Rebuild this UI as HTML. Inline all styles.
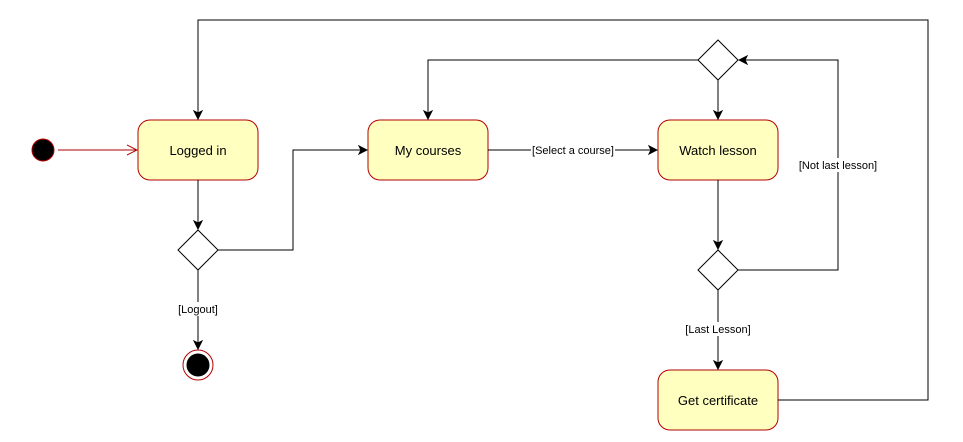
<!DOCTYPE html>
<html><head><meta charset="utf-8"><style>
html,body{margin:0;padding:0;background:#fff;}
svg{display:block;}
text{font-family:"Liberation Sans",Arial,sans-serif;}
</style></head><body>
<svg width="963" height="442" viewBox="0 0 963 442" xmlns="http://www.w3.org/2000/svg">
<defs>
<marker id="a" markerWidth="10" markerHeight="10" refX="9" refY="5" orient="auto" markerUnits="userSpaceOnUse">
<path d="M1,1 L9,5 L1,9 L3,5 Z" fill="#000" stroke="#000"/>
</marker>
<marker id="r" markerWidth="12" markerHeight="12" refX="11" refY="6" orient="auto" markerUnits="userSpaceOnUse">
<path d="M1,1 L11,6 L1,11" fill="none" stroke="#b20000"/>
</marker>
</defs>
<g fill="none" stroke="#000" stroke-width="1">
<circle cx="43" cy="150" r="11" fill="#000" stroke="#b20000"/>
<line x1="58" y1="150" x2="137" y2="150" stroke="#b20000" marker-end="url(#r)"/>
<rect x="138" y="120" width="120" height="60" rx="12" fill="#ffffc0" stroke="#b20000"/>
<rect x="368" y="120" width="120" height="60" rx="12" fill="#ffffc0" stroke="#b20000"/>
<rect x="658" y="120" width="120" height="60" rx="12" fill="#ffffc0" stroke="#b20000"/>
<rect x="658" y="370" width="120" height="60" rx="12" fill="#ffffc0" stroke="#b20000"/>
<path d="M198,230 L218,250 L198,270 L178,250 Z" fill="#fff"/>
<path d="M718,40 L738,60 L718,80 L698,60 Z" fill="#fff"/>
<path d="M718,250 L738,270 L718,290 L698,270 Z" fill="#fff"/>
<circle cx="198" cy="365" r="15" fill="#fff" stroke="#b20000"/>
<circle cx="198" cy="365" r="11" fill="#000"/>
<line x1="198" y1="180" x2="198" y2="229" marker-end="url(#a)"/>
<polyline points="218,250 293,250 293,150 367,150" marker-end="url(#a)"/>
<line x1="198" y1="270" x2="198" y2="349" marker-end="url(#a)"/>
<line x1="488" y1="150" x2="657" y2="150" marker-end="url(#a)"/>
<line x1="718" y1="180" x2="718" y2="249" marker-end="url(#a)"/>
<polyline points="738,270 838,270 838,60 739,60" marker-end="url(#a)"/>
<polyline points="698,60 428,60 428,119" marker-end="url(#a)"/>
<line x1="718" y1="80" x2="718" y2="119" marker-end="url(#a)"/>
<line x1="718" y1="290" x2="718" y2="369" marker-end="url(#a)"/>
<polyline points="778,400 928,400 928,20 198,20 198,119" marker-end="url(#a)"/>
</g>
<g font-size="13" fill="#000" text-anchor="middle">
<text x="198" y="155">Logged in</text>
<text x="428" y="155">My courses</text>
<text x="718" y="155">Watch lesson</text>
<text x="718" y="405">Get certificate</text>
</g>
<g font-size="11" fill="#000" text-anchor="middle">
<rect x="176" y="302" width="44" height="14" fill="#fff"/>
<text x="198" y="313">[Logout]</text>
<rect x="531" y="143" width="84" height="14" fill="#fff"/>
<text x="573" y="154">[Select a course]</text>
<rect x="798" y="158" width="80" height="14" fill="#fff"/>
<text x="838" y="169">[Not last lesson]</text>
<rect x="684" y="322" width="68" height="14" fill="#fff"/>
<text x="718" y="333">[Last Lesson]</text>
</g>
</svg>
</body></html>
